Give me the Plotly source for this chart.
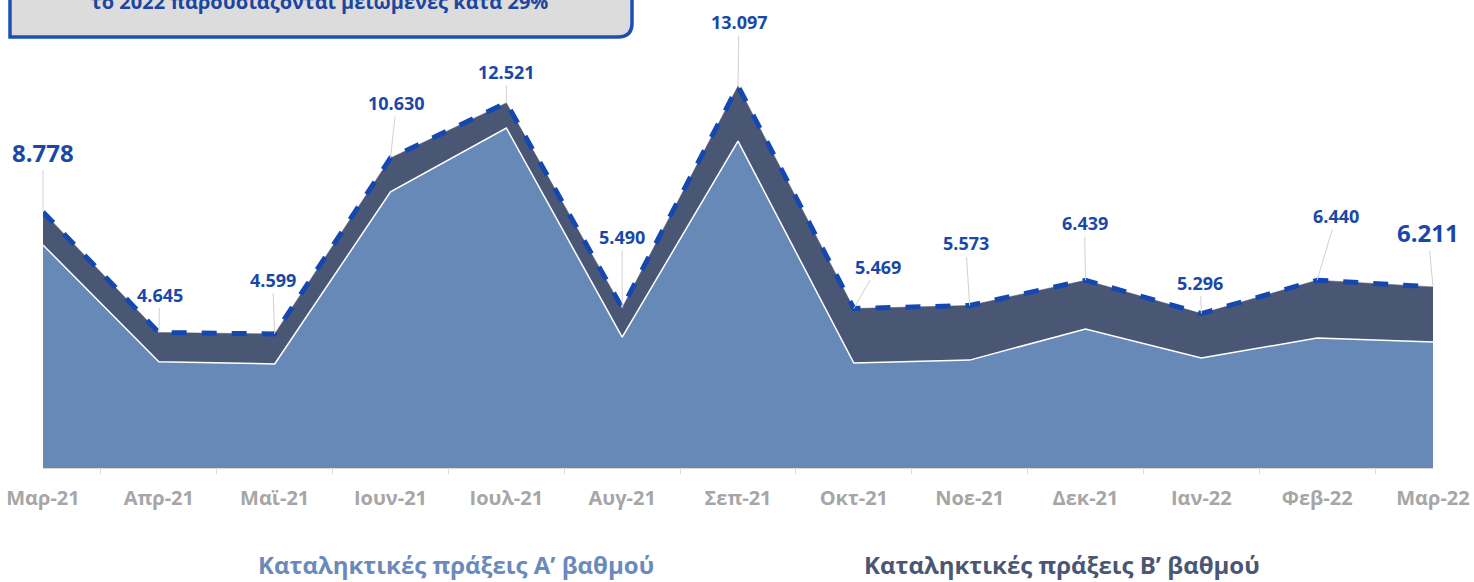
import plotly.graph_objects as go

months = ["Μαρ-21", "Απρ-21", "Μαϊ-21", "Ιουν-21", "Ιουλ-21", "Αυγ-21", "Σεπ-21",
          "Οκτ-21", "Νοε-21", "Δεκ-21", "Ιαν-22", "Φεβ-22", "Μαρ-22"]
grade_a = [7650, 3640, 3570, 9470, 11660, 4490, 11210, 3600, 3700, 4770, 3770, 4460, 4320]
grade_b = [1128, 1005, 1029, 1160, 861, 1000, 1887, 1869, 1873, 1669, 1526, 1980, 1891]
totals = [a + b for a, b in zip(grade_a, grade_b)]

# label offsets in pixels (ax, ay) and font size
label_offsets = [(0, -60, 24), (1, -38, 18), (-2, -54, 18), (6, -55, 18), (0, -31, 18),
                 (0, -71, 18), (1, -64, 18), (24, -42, 18), (-4, -62, 18), (-1, -57, 18),
                 (-1, -31, 18), (19, -64, 18), (-5, -54, 24)]

COL_A = "#6689b7"
COL_B = "#4a5774"
COL_LINE = "#1448b0"
COL_LABEL = "#1a48a8"

W, H = 1474, 582
ML, MR, MT, MB = 43, 41, 0, 114
PW, PH = W - ML - MR, H - MT - MB


def px(x):
    return (x - ML) / PW


def py(y):
    return (PH + MT - y) / PH


fig = go.Figure()

fig.add_trace(go.Scatter(
    x=months, y=grade_a, mode="lines", fill="tozeroy",
    fillcolor=COL_A, line=dict(color="white", width=1.5),
    name="Καταληκτικές πράξεις Α’ βαθμού", hoverinfo="skip"
))
fig.add_trace(go.Scatter(
    x=months, y=totals, mode="lines", fill="tonexty",
    fillcolor=COL_B, line=dict(color=COL_B, width=0.5),
    name="Καταληκτικές πράξεις Β’ βαθμού", hoverinfo="skip"
))
fig.add_trace(go.Scatter(
    x=months, y=totals, mode="lines",
    line=dict(color=COL_LINE, width=5, dash="dash"),
    showlegend=False, hoverinfo="skip"
))

annotations = []
for m, t, (ax, ay, fs) in zip(months, totals, label_offsets):
    annotations.append(dict(
        x=m, y=t, xref="x", yref="y",
        text=f"{t:,}".replace(",", "."),
        showarrow=True, arrowhead=0, arrowwidth=1, arrowcolor="#d0d0d0",
        ax=ax, ay=ay, standoff=0,
        font=dict(family="Open Sans", size=fs, color=COL_LABEL, weight="bold")
    ))

# summary box (partly outside the top of the page)
bl, br, bb, bt = px(10), px(632), py(37), py(-40)
rx, ry = 14 / PW, 14 / PH
box_path = (f"M {bl},{bt} L {bl},{bb} L {br - rx},{bb} Q {br},{bb} {br},{bb + ry} "
            f"L {br},{bt} Z")
fig.add_shape(type="path", path=box_path, xref="paper", yref="paper",
              fillcolor="#dcdcdc", line=dict(color="#1c4fb6", width=3.5), layer="above")
annotations.append(dict(
    x=px(319), y=py(2), xref="paper", yref="paper", showarrow=False,
    text="το 2022 παρουσιάζονται μειωμένες κατά 29%",
    xanchor="center", yanchor="middle",
    font=dict(family="Open Sans", size=20, color="#1c45a0", weight="bold")
))

# legend texts
annotations.append(dict(
    x=px(456), y=py(564), xref="paper", yref="paper", showarrow=False,
    text="Καταληκτικές πράξεις Α’ βαθμού", xanchor="center", yanchor="middle",
    font=dict(family="Open Sans", size=24, color="#6a8abb", weight="bold")
))
annotations.append(dict(
    x=px(1062), y=py(564), xref="paper", yref="paper", showarrow=False,
    text="Καταληκτικές πράξεις Β’ βαθμού", xanchor="center", yanchor="middle",
    font=dict(family="Open Sans", size=24, color=COL_B, weight="bold")
))

fig.update_layout(
    width=W, height=H,
    margin=dict(l=ML, r=MR, t=MT, b=MB),
    paper_bgcolor="white", plot_bgcolor="white",
    showlegend=False,
    annotations=annotations,
    xaxis=dict(
        type="category", range=[0, 12], showgrid=False, zeroline=False,
        showline=True, linecolor="#d9d9d9", linewidth=1,
        ticks="outside", tickson="boundaries", ticklen=5, tickcolor="#d9d9d9",
        tickfont=dict(family="Open Sans", size=20, color="#a6a6a6", weight="bold"),
        ticklabelstandoff=12
    ),
    yaxis=dict(range=[0, PH / 0.02916], visible=False, showgrid=False, zeroline=False),
)

# remove the page margin so the chart fills the window edge to edge
fig.write_html(
    "out.html",
    config={"displayModeBar": False},
    post_script="document.body.style.margin='0';document.body.style.overflow='hidden';",
)
